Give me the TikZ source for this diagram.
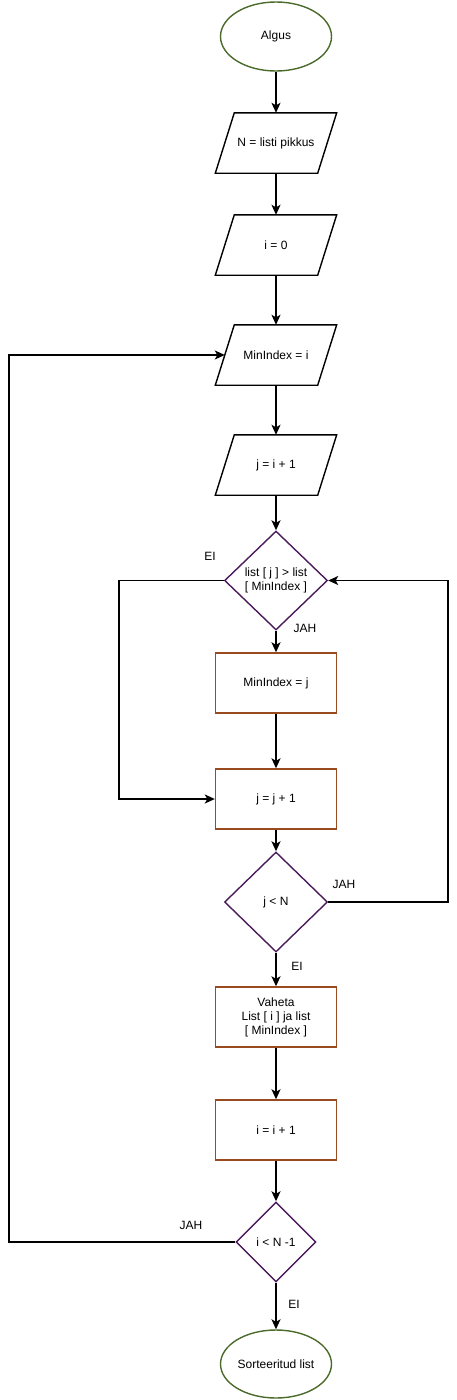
\documentclass[tikz,border=0pt]{standalone}
\usepackage{fontspec}
\setmainfont{Liberation Sans}
\usetikzlibrary{shapes.geometric,arrows.meta}
\definecolor{termc}{HTML}{4A6B2A}
\definecolor{decc}{HTML}{4B1A5A}
\definecolor{procc}{HTML}{9A4A20}
\tikzset{
  x=1pt,y=-1pt,
  every node/.style={font=\fontsize{12}{14}\selectfont},
  term/.style={ellipse,draw=termc,line width=1.4pt,minimum width=111pt,minimum height=69pt,inner sep=0pt},
  iobox/.style={rectangle,minimum width=102pt,minimum height=60pt,inner sep=0pt},
  ioshape/.style={draw=black,line width=1.4pt,line join=miter},
  dec/.style={diamond,draw=decc,line width=1.4pt,inner sep=0pt,align=center},
  proc/.style={rectangle,draw=procc,line width=1.4pt,minimum width=121pt,minimum height=60pt,inner sep=0pt,align=center},
  arr/.style={draw=black,line width=1.6pt,-{Stealth[length=10pt,width=9pt,inset=2.5pt]}},
  lab/.style={inner sep=0pt},
}
\begin{document}
\begin{tikzpicture}
\useasboundingbox (0,0) rectangle (457,1400);
\node[term] (start) at (276,36.5) {Algus};
\node[iobox] (p1) at (276,143) {N = listi pikkus};
\node[iobox] (p2) at (276,245) {i = 0};
\node[iobox] (p3) at (276,355) {MinIndex = i};
\node[iobox] (p4) at (276,465) {j = i + 1};
\foreach \n in {p1,p2,p3,p4}
  \draw[ioshape] ([xshift=9.5pt]\n.north west) -- ([xshift=9.5pt]\n.north east)
    -- ([xshift=-9.5pt]\n.south east) -- ([xshift=-9.5pt]\n.south west) -- cycle;
\node[dec,minimum width=103pt,minimum height=99pt] (d1) at (276,580.5) {list [ j ] > list\\{[} MinIndex ]};
\node[proc] (b1) at (276,683) {MinIndex = j};
\node[proc] (b2) at (276,799) {j = j + 1};
\node[dec,minimum width=103pt,minimum height=100pt] (d2) at (276,902) {j < N};
\node[proc] (b3) at (276,1017) {Vaheta\\List [ i ] ja list\\{[} MinIndex ]};
\node[proc] (b4) at (276,1130) {i = i + 1};
\node[dec,minimum width=80pt,minimum height=80pt] (d3) at (276,1242) {i < N -1};
\node[term,minimum height=68pt] (end) at (276,1364) {Sorteeritud list};

\coordinate (lX) at (9,0);
\coordinate (eX) at (119,0);
\coordinate (rX) at (448,0);

\draw[arr] (start) -- (p1);
\draw[arr] (p1) -- (p2);
\draw[arr] (p2) -- (p3);
\draw[arr] (p3) -- (p4);
\draw[arr] (p4) -- (d1);
\draw[arr] (d1) -- (b1);
\draw[arr] (b1) -- (b2);
\draw[arr] (b2) -- (d2);
\draw[arr] (d2) -- (b3);
\draw[arr] (b3) -- (b4);
\draw[arr] (b4) -- (d3);
\draw[arr] (d3) -- (end);
\draw[arr] (d1.west) -- (eX |- d1.west) -- (eX |- b2.west) -- (b2.west);
\draw[arr] (d2.east) -- (rX |- d2.east) -- (rX |- d1.east) -- (d1.east);
\draw[arr] (d3.west) -- (lX |- d3.west) -- (lX |- p3.west) -- (p3.west);

\node[lab] (l1) at (210,556) {EI};
\node[lab] (l2) at (305,628) {JAH};
\node[lab] (l3) at (344,884) {JAH};
\node[lab] (l4) at (297,966) {EI};
\node[lab] (l5) at (191,1225) {JAH};
\node[lab] (l6) at (294,1304) {EI};
\end{tikzpicture}
\end{document}
